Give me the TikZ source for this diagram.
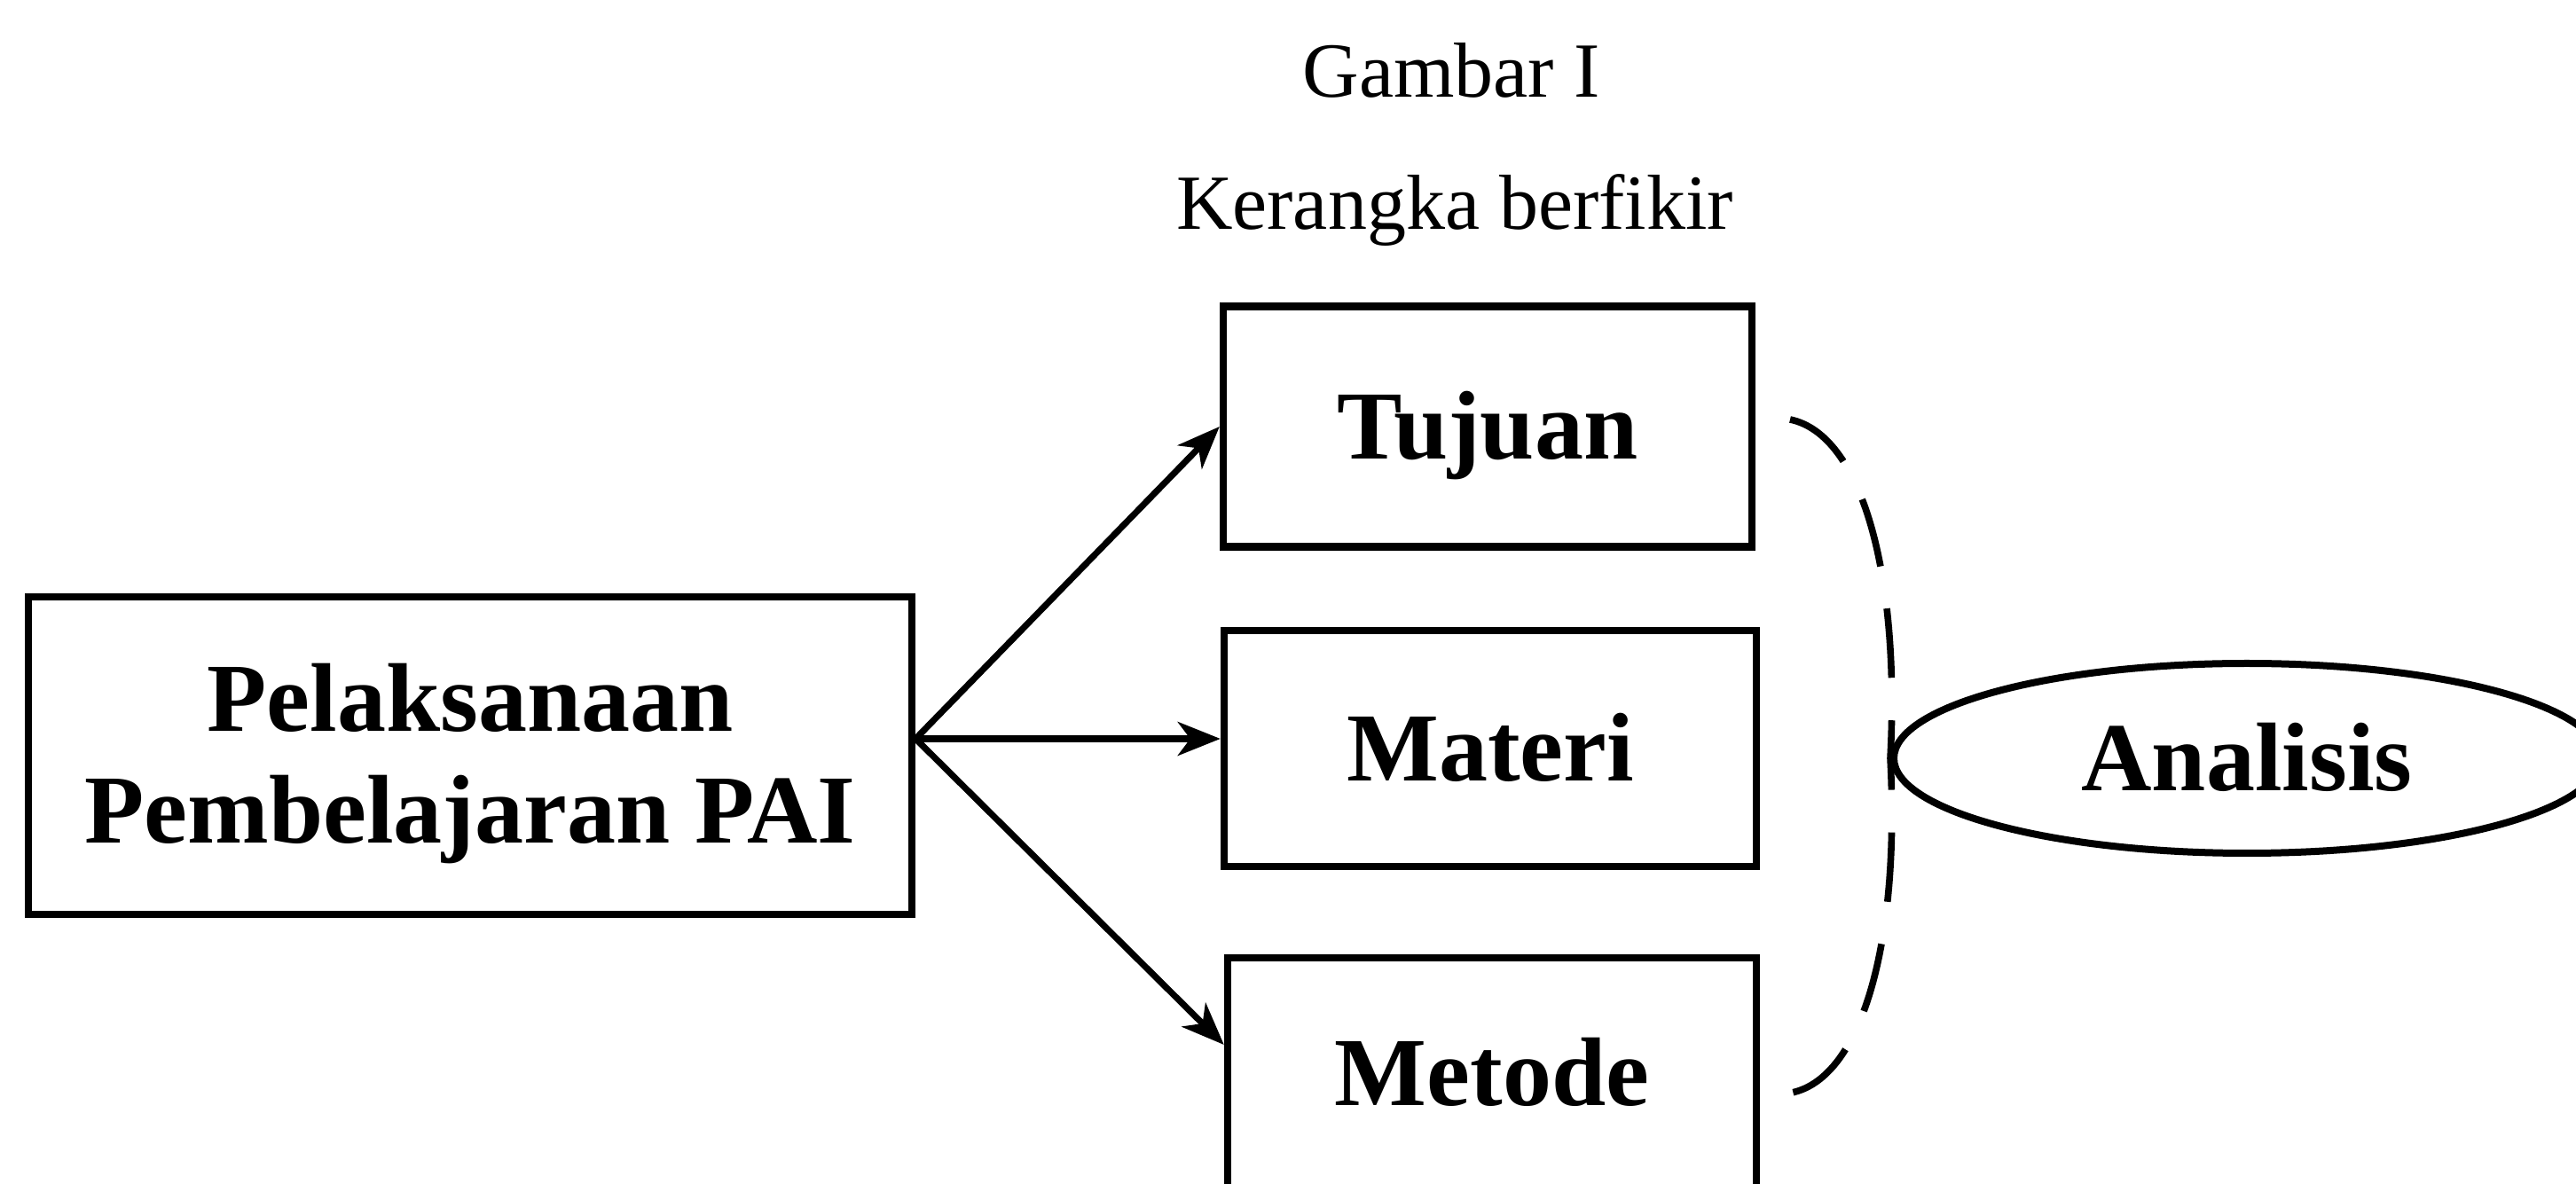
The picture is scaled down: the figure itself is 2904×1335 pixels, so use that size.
\documentclass[tikz,border=0pt]{standalone}
\usepackage{fontspec}
\setmainfont{Liberation Serif}
\usetikzlibrary{arrows.meta,shapes.geometric}
\begin{document}
\begin{tikzpicture}[x=0.25pt,y=-0.25pt,
  boxnode/.style={draw,line width=2.1pt,rectangle,inner sep=0pt,
    font=\bfseries\fontsize{27.5}{31.5}\selectfont,
    text height=20.6pt,text depth=2.4pt},
  titletext/.style={inner sep=0pt,font=\fontsize{22}{26}\selectfont,anchor=base},
  arr/.style={line width=1.8pt,-{Stealth[length=12pt,width=9.5pt,inset=3.5pt]}},
  brace/.style={line width=1.9pt,dash pattern=on 19.6pt off 12pt}]
\useasboundingbox (0,0) rectangle (2904,1335);
\fill[white] (0,0) rectangle (2904,1335);
\node[titletext] (t1) at (1636,110) {Gambar I};
\node[titletext] (t2) at (1640,259) {Kerangka berfikir};
\node[boxnode,minimum width=249pt,minimum height=89.5pt,align=center,
      text height=,text depth=] (pai) at (530,852)
  {\rule{0pt}{23.8pt}Pelaksanaan\\Pembelajaran PAI};
\node[boxnode,minimum width=149pt,minimum height=67.75pt] (tuj) at (1677,481) {Tujuan};
\node[boxnode,minimum width=150pt,minimum height=66.5pt] (mat) at (1680,844) {Materi};
\node[boxnode,minimum width=149pt,minimum height=65pt] (met) at (1682,1210) {Metode};
\node[draw,ellipse,line width=2pt,inner sep=0pt,minimum width=199pt,minimum height=53.5pt,
      font=\bfseries\fontsize{27.5}{31.5}\selectfont,text height=20.6pt,text depth=2.4pt]
  (ana) at (2533,855) {Analisis};
\coordinate (o) at ([yshift=4.75pt]pai.east);
\draw[arr] (o) -- (tuj.west);
\draw[arr] (o) -- (o -| mat.west);
\draw[arr] (o) -- ([yshift=8pt]met.west);
\coordinate (b1) at (2018,473);
\coordinate (b2) at (2020,1232);
\draw[brace] (b1) .. controls (2100,490) and (2142,650) .. (ana.west)
  .. controls (2142,1060) and (2100,1215) .. (b2);
\end{tikzpicture}
\end{document}
